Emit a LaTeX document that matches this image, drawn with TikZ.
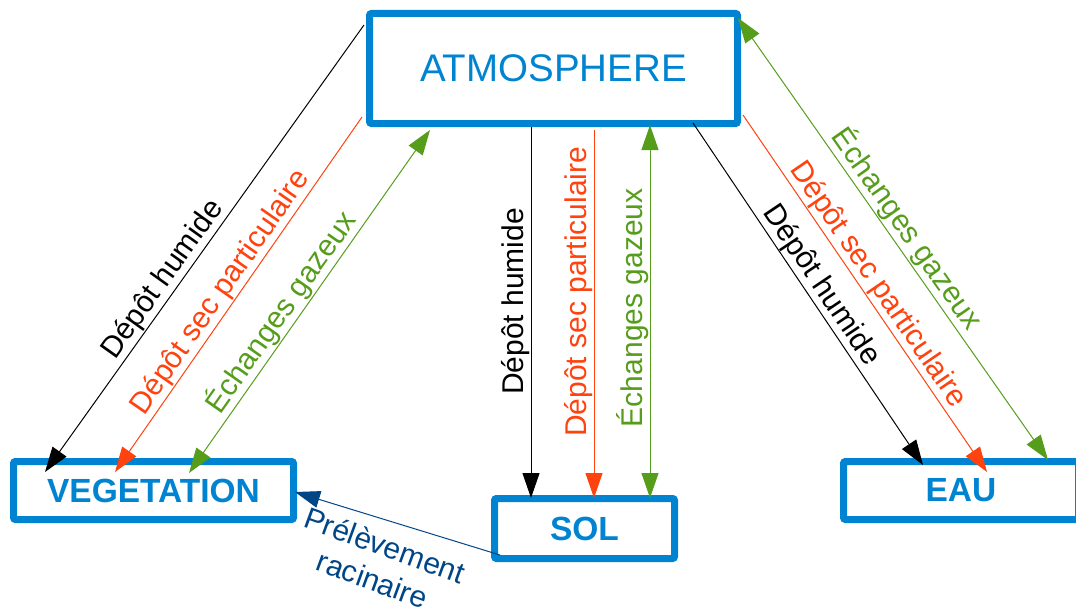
\documentclass[tikz,border=0pt]{standalone}
\usepackage{fontspec}
\setmainfont{Liberation Sans}
\usetikzlibrary{arrows.meta, positioning}
\definecolor{boxblue}{RGB}{0,132,209}
\definecolor{secred}{RGB}{255,66,14}
\definecolor{gazgreen}{RGB}{87,157,28}
\definecolor{rootblue}{RGB}{0,69,134}

\begin{document}
\begin{tikzpicture}[x=1pt, y=-1pt,
    box/.style={
        draw=boxblue, line width=7pt, rounded corners=2pt,
        text=boxblue, inner sep=0pt,
        font=\fontsize{33.5}{40}\selectfont\bfseries
    },
    tip/.style={
        -{Triangle[length=25pt,width=17pt]},
        line width=1pt, color=#1
    },
    both/.style={
        {Triangle[length=25pt,width=17pt]}-{Triangle[length=25pt,width=17pt]},
        line width=1pt, color=#1
    },
    lbl/.style={
        font=\fontsize{30}{36}\selectfont,
        sloped, above, inner sep=1pt
    },
    vlbl/.style={
        font=\fontsize{30}{36}\selectfont,
        rotate=90, above, inner sep=1pt
    }
]
\useasboundingbox (0,0) rectangle (1076,610);

% =========================
% BOXES
% =========================
\node[box, font=\fontsize{38.5}{46}\selectfont,
      minimum width=368pt, minimum height=110pt] (atm) at (553.5,68.5)
 {ATMOSPHERE};

\node[box, minimum width=180pt, minimum height=60pt,
      below=368pt of atm, xshift=31pt] (sol) {SOL};

\node[box, minimum width=280pt, minimum height=58pt,
      left=194pt of sol, yshift=38pt] (veg) {VEGETATION};

\node[box, minimum width=235pt, minimum height=58pt,
      right=162pt of sol, yshift=38pt] (eau) {EAU};

% =========================
% ATMOSPHERE -> VEGETATION
% =========================
\draw[tip=black]
([shift={(-2,15)}]atm.north west) -- ([shift={(35,14)}]veg.north west)
node[lbl, pos=0.59]{Dépôt humide};

\draw[tip=secred]
([shift={(-4,-10)}]atm.south west) -- ([shift={(105,14)}]veg.north west)
node[lbl, pos=0.52]{Dépôt sec particulaire};

\draw[both=gazgreen]
([shift={(64,3)}]atm.south west) -- ([shift={(179,15)}]veg.north west)
node[lbl, pos=0.56]{Échanges gazeux};

% =========================
% ATMOSPHERE -> SOL
% =========================
\draw[tip=black]
([shift={(-22.5,0)}]atm.south) -- ([shift={(-53.5,3)}]sol.north)
node[vlbl, pos=0.47]{Dépôt humide};

\draw[tip=secred]
([shift={(40.5,3)}]atm.south) -- ([shift={(9.5,3)}]sol.north)
node[vlbl, pos=0.44]{Dépôt sec particulaire};

\draw[both=gazgreen]
([shift={(96.5,-2)}]atm.south) -- ([shift={(65.5,3)}]sol.north)
node[vlbl, pos=0.49]{Échanges gazeux};

% =========================
% ATMOSPHERE -> EAU
% =========================
\draw[both=gazgreen]
([shift={(-3,8)}]atm.north east) -- ([shift={(208,2)}]eau.north west)
node[lbl, pos=0.5]{Échanges gazeux};

\draw[tip=secred]
([shift={(2,-12)}]atm.south east) -- ([shift={(147,14)}]eau.north west)
node[lbl, pos=0.5]{Dépôt sec particulaire};

\draw[tip=black]
([shift={(-48,-4)}]atm.south east) -- ([shift={(83,7)}]eau.north west)
node[lbl, pos=0.5]{Dépôt humide};

% =========================
% SOL -> VEGETATION
% =========================
\draw[tip=rootblue]
([shift={(9,-7)}]sol.south west) -- ([shift={(-2,1.5)}]veg.east)
node[pos=0.52, rotate=-20, below, yshift=-12pt, align=center, inner sep=1pt,
     font=\fontsize{30}{36}\selectfont]{Prélèvement\\racinaire};

\end{tikzpicture}
\end{document}
